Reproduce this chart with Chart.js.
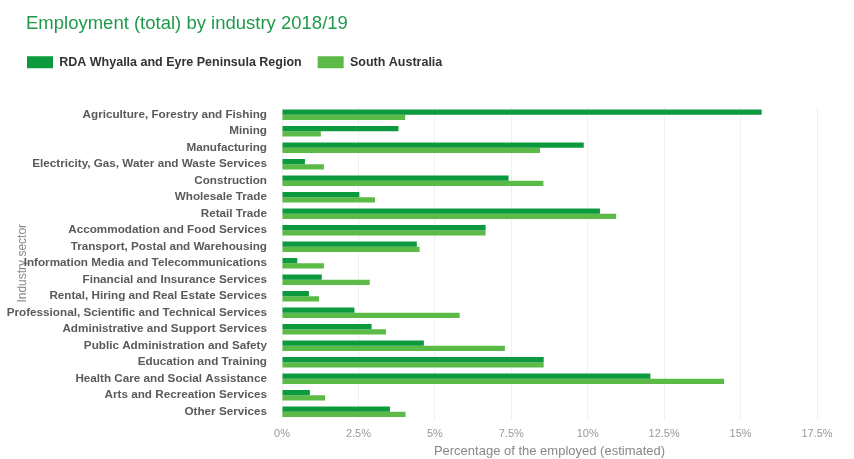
<!DOCTYPE html>
<html>
<head>
<meta charset="utf-8">
<script src="https://cdn.jsdelivr.net/npm/chart.js@4/dist/chart.umd.min.js"></script>
<style>
  html, body { margin: 0; padding: 0; background: #ffffff; }
  #wrap { position: relative; width: 854px; height: 459px; }
  #title { position: absolute; left: 26px; top: 14px; font-family: "Liberation Sans", Arial, sans-serif; font-size: 18.5px; line-height: 18.5px; color: #1f9a4a; white-space: nowrap; }
  canvas { position: absolute; left: 0; top: 0; }
</style>
</head>
<body>
<div id="wrap">
  <canvas id="c" width="854" height="459"></canvas>
  <div id="title">Employment (total) by industry 2018/19</div>
</div>
<script>
const categories = [
  "Agriculture, Forestry and Fishing",
  "Mining",
  "Manufacturing",
  "Electricity, Gas, Water and Waste Services",
  "Construction",
  "Wholesale Trade",
  "Retail Trade",
  "Accommodation and Food Services",
  "Transport, Postal and Warehousing",
  "Information Media and Telecommunications",
  "Financial and Insurance Services",
  "Rental, Hiring and Real Estate Services",
  "Professional, Scientific and Technical Services",
  "Administrative and Support Services",
  "Public Administration and Safety",
  "Education and Training",
  "Health Care and Social Assistance",
  "Arts and Recreation Services",
  "Other Services"
];
const seriesNames = ["RDA Whyalla and Eyre Peninsula Region", "South Australia"];
const rdaValues = [15.69, 3.81, 9.87, 0.75, 7.41, 2.53, 10.40, 6.66, 4.41, 0.50, 1.30, 0.88, 2.37, 2.93, 4.64, 8.56, 12.05, 0.91, 3.53];
const saValues  = [4.03, 1.27, 8.44, 1.37, 8.55, 3.04, 10.93, 6.66, 4.50, 1.37, 2.87, 1.21, 5.81, 3.40, 7.29, 8.56, 14.46, 1.41, 4.04];
const xAxisTitle = "Percentage of the employed (estimated)";
const yAxisTitle = "Industry sector";

const FONT = "'Liberation Sans', Arial, sans-serif";

const legendSpacer = {
  id: 'legendSpacer',
  beforeLayout(chart) {
    const lg = chart.legend;
    if (lg && !lg._spaced) {
      const f = lg.fit;
      lg.fit = function () { f.call(this); this.height += 28; };
      lg._spaced = true;
    }
  },
  afterLayout(chart) {
    if (chart.legend) chart.legend.left = 11;
  }
};

new Chart(document.getElementById('c'), {
  type: 'bar',
  data: {
    labels: categories,
    datasets: [
      { label: seriesNames[0], data: rdaValues, backgroundColor: '#0d993e', borderWidth: 0 },
      { label: seriesNames[1], data: saValues, backgroundColor: '#5cba47', borderWidth: 0 }
    ]
  },
  options: {
    indexAxis: 'y',
    responsive: false,
    animation: false,
    devicePixelRatio: 1,
    categoryPercentage: 0.64,
    barPercentage: 1.0,
    layout: { padding: { top: 40, left: 0, right: 37, bottom: 0 } },
    plugins: {
      title: { display: false },
      tooltip: { enabled: false },
      legend: {
        display: true,
        position: 'top',
        align: 'start',
        labels: {
          boxWidth: 26,
          boxHeight: 12,
          padding: 16,
          color: '#333333',
          font: { family: FONT, size: 12.5, weight: 'bold' }
        }
      }
    },
    scales: {
      x: {
        type: 'linear',
        min: 0,
        max: 17.5,
        border: { display: false },
        grid: { color: 'rgba(0,0,0,0.06)', drawTicks: false },
        ticks: {
          stepSize: 2.5,
          padding: 7,
          color: '#999999',
          font: { family: FONT, size: 11 },
          callback: (v) => v + '%'
        },
        title: {
          display: true,
          text: xAxisTitle,
          color: '#888888',
          font: { family: FONT, size: 13 },
          padding: { top: 3, bottom: 0 }
        },
        afterFit(scale) { scale.height = 39; }
      },
      y: {
        type: 'category',
        border: { display: false },
        grid: { display: false, drawTicks: false },
        ticks: {
          padding: 15,
          color: '#5a5a5a',
          autoSkip: false,
          font: { family: FONT, size: 11.7, weight: 'bold' }
        },
        title: {
          display: true,
          text: yAxisTitle,
          color: '#888888',
          font: { family: FONT, size: 12 },
          padding: { top: 15, bottom: 0 }
        },
        afterFit(scale) { scale.width = 282; }
      }
    }
  },
  plugins: [legendSpacer]
});
</script>
</body>
</html>
